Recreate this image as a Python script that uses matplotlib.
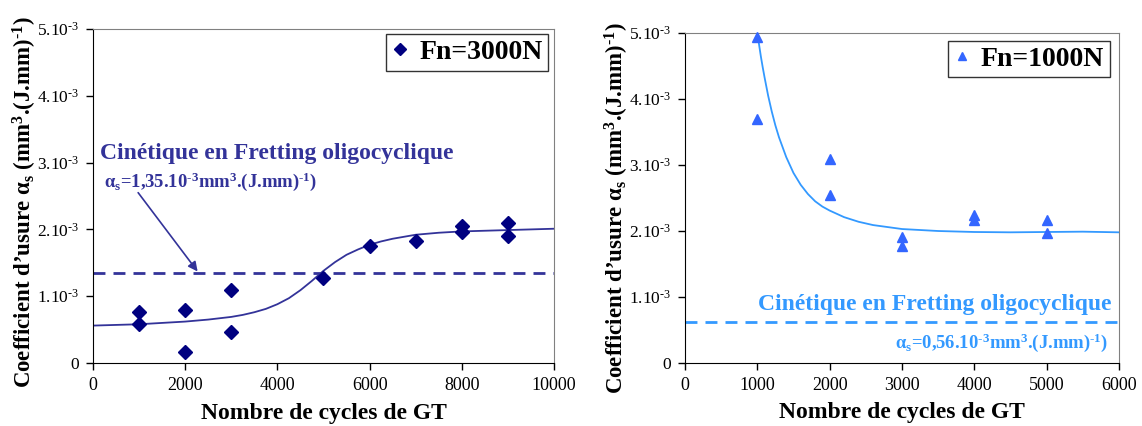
import matplotlib
matplotlib.use("Agg")
import matplotlib.pyplot as plt

plt.rcParams['font.family'] = ['Liberation Serif', 'DejaVu Serif']
plt.rcParams['mathtext.fontset'] = 'custom'
plt.rcParams['mathtext.rm'] = 'Liberation Serif'
plt.rcParams['mathtext.it'] = 'Liberation Serif:italic'
plt.rcParams['mathtext.bf'] = 'Liberation Serif:bold'

# --- data (y in units of 1e-3 mm3/(J.mm)) ---
# Fn = 3000 N
cycles_3000 = [1000, 1000, 2000, 2000, 3000, 3000, 5000, 6000, 7000, 8000, 8000, 9000, 9000]
alpha_3000 = [0.76, 0.58, 0.79, 0.17, 1.10, 0.47, 1.27, 1.75, 1.83, 2.05, 1.96, 2.10, 1.90]
fit_x_3000 = [0, 1000, 2000, 2500, 3000, 3250, 3500, 3750, 4000, 4250, 4500, 4750,
              5000, 5250, 5500, 5750, 6000, 6250, 6500, 7000, 7500, 8000, 9000, 10000]
fit_y_3000 = [0.56, 0.58, 0.62, 0.65, 0.69, 0.72, 0.76, 0.81, 0.88, 0.97, 1.09, 1.23,
              1.38, 1.51, 1.62, 1.70, 1.77, 1.82, 1.86, 1.92, 1.95, 1.97, 1.99, 2.01]
oligo_3000 = 1.35

# Fn = 1000 N
cycles_1000 = [1000, 1000, 2000, 2000, 3000, 3000, 4000, 4000, 5000, 5000]
alpha_1000 = [4.94, 3.69, 3.09, 2.54, 1.91, 1.77, 2.25, 2.16, 2.17, 1.97]
fit_x_1000 = [1000, 1025, 1050, 1075, 1100, 1150, 1200, 1250, 1300, 1400, 1500, 1600,
              1700, 1800, 1900, 2000, 2200, 2400, 2600, 2800, 3000, 3500, 4000, 4500,
              5000, 5500, 6000]
fit_y_1000 = [5.0, 4.82, 4.64, 4.48, 4.33, 4.05, 3.81, 3.60, 3.42, 3.12, 2.88, 2.70,
              2.56, 2.45, 2.37, 2.31, 2.21, 2.14, 2.09, 2.06, 2.03, 2.00, 1.985, 1.98,
              1.985, 1.99, 1.98]
oligo_1000 = 0.62

HY = u'\u2010'  # plain hyphen, so mathtext does not turn it into a wide minus
yticks = [0, 1, 2, 3, 4, 5]
yticklabels = ['0'] + ['%d.10$^{%s3}$' % (v, HY) for v in yticks[1:]]

ylabel = (u'Coefficient d\u2019usure \u03b1$_\\mathbf{s}$ (mm$^\\mathbf{3}$.(J.mm)$^\\mathbf{%s1}$)'
          % HY)
xlabel = 'Nombre de cycles de GT'
note_3000 = (u'\u03b1$_\\mathbf{s}$=1,35.10$^\\mathbf{%s3}$mm$^\\mathbf{3}$.(J.mm)$^\\mathbf{%s1}$)'
             % (HY, HY))
note_1000 = (u'\u03b1$_\\mathbf{s}$=0,56.10$^\\mathbf{%s3}$mm$^\\mathbf{3}$.(J.mm)$^\\mathbf{%s1}$)'
             % (HY, HY))
title_oligo = u'Cin\u00e9tique en Fretting oligocyclique'

fig = plt.figure(figsize=(11.42, 4.26), dpi=100)
ax1 = fig.add_axes([0.0814, 0.1479, 0.4037, 0.784])
ax2 = fig.add_axes([0.5998, 0.1479, 0.380, 0.7746])


def style_axes(ax, xmax, xstep, ylab_x, ylab_y):
    ax.set_ylim(0, 5)
    ax.set_xlim(0, xmax)
    ax.set_yticks(yticks)
    ax.set_yticklabels(yticklabels)
    ax.set_xticks(range(0, xmax + 1, xstep))
    ax.tick_params(direction='out', length=5, width=1, pad=5, colors='black')
    ax.tick_params(axis='x', labelsize=13)
    ax.tick_params(axis='y', labelsize=12.5)
    ax.spines['top'].set_color('#808080')
    ax.spines['right'].set_color('#808080')
    ax.set_xlabel(xlabel, fontsize=17, fontweight='bold', va='center')
    ax.xaxis.set_label_coords(0.5, -0.150)
    ax.set_ylabel(ylabel, fontsize=16.5, fontweight='bold', va='center')
    ax.yaxis.set_label_coords(ylab_x, ylab_y)


def add_legend(ax, anchor):
    leg = ax.legend(loc='upper right', bbox_to_anchor=anchor, fancybox=False,
                    frameon=True, edgecolor='black', handletextpad=0.4, handlelength=0.6,
                    borderpad=0.2, borderaxespad=0, markerscale=0.75,
                    prop={'family': 'Liberation Serif', 'weight': 'bold', 'size': 20})
    leg.get_frame().set_linewidth(1.0)
    return leg


# left chart
style_axes(ax1, 10000, 2000, -0.1475, 0.4805)
ax1.plot(fit_x_3000, fit_y_3000, color='#333399', lw=1.3, zorder=2)
ax1.axhline(oligo_3000, color='#333399', lw=2, dashes=(4.3, 2.9), zorder=2)
ax1.plot(cycles_3000, alpha_3000, 'D', color='#000080', ms=7.5, ls='none',
         label='Fn=3000N', zorder=3)
add_legend(ax1, (0.987, 0.985))
ax1.text(0.0152, 0.626, title_oligo, transform=ax1.transAxes,
         color='#333399', fontsize=17, fontweight='bold', va='center', ha='left')
ax1.text(0.024, 0.542, note_3000, transform=ax1.transAxes, color='#333399',
         fontsize=13.4, fontweight='bold', va='center', ha='left')
ax1.annotate('', xy=(2270, 1.37), xytext=(980, 2.55),
             arrowprops=dict(arrowstyle='-|>', color='#333399', lw=1.2,
                             mutation_scale=14, shrinkA=0, shrinkB=0))

# right chart
style_axes(ax2, 6000, 1000, -0.157, 0.468)
ax2.plot(fit_x_1000, fit_y_1000, color='#3399FF', lw=1.3, zorder=2)
ax2.axhline(oligo_1000, color='#3399FF', lw=2, dashes=(4.3, 2.9), zorder=2)
ax2.plot(cycles_1000, alpha_1000, '^', color='#3366FF', ms=7.5, ls='none',
         label='Fn=1000N', zorder=3, clip_on=False)
add_legend(ax2, (0.979, 0.976))
ax2.text(0.984, 0.176, title_oligo, transform=ax2.transAxes,
         color='#3399FF', fontsize=17, fontweight='bold', va='center', ha='right')
ax2.text(0.975, 0.061, note_1000, transform=ax2.transAxes, color='#3399FF',
         fontsize=13.4, fontweight='bold', va='center', ha='right')

fig.savefig('out.png', dpi=100)
